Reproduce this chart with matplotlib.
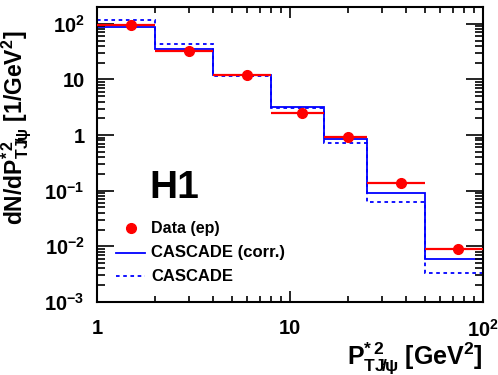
import numpy as np
import matplotlib.pyplot as plt
from matplotlib.ticker import FuncFormatter, LogLocator, NullFormatter

plt.rcParams['font.family'] = ['Liberation Sans', 'DejaVu Sans']
plt.rcParams['font.weight'] = 'bold'
plt.rcParams['mathtext.fontset'] = 'custom'
plt.rcParams['mathtext.rm'] = 'Liberation Sans:bold'
plt.rcParams['mathtext.bf'] = 'Liberation Sans:bold'
plt.rcParams['mathtext.it'] = 'Liberation Sans:bold'
plt.rcParams['mathtext.sf'] = 'Liberation Sans:bold'

# bin edges in P*T^2 [GeV^2]
bin_edges = [1, 2, 4, 8, 15, 25, 50, 100]

# data (ep)
data_x = [1.5, 3.0, 6.0, 11.5, 20.0, 37.5, 74.0]
data_y = [97, 33, 11.8, 2.5, 0.93, 0.138, 0.0088]
data_yerr = [8, 2.5, 0.8, 0.2, 0.08, 0.015, 0.0012]

# CASCADE predictions
cascade_corr = [87, 35, 12.0, 3.15, 0.85, 0.089, 0.006]
cascade = [118, 43, 11.6, 3.05, 0.72, 0.063, 0.0033]

fig = plt.figure(figsize=(4.98, 3.75), dpi=100)
ax = fig.add_axes([0.195, 0.195, 0.775, 0.786])

ax.stairs(cascade_corr, bin_edges, color='#0000ff', lw=1.3, baseline=None)
ax.stairs(cascade, bin_edges, color='#0000ff', lw=1.3, ls=(0, (2, 2)), baseline=None)

edges = np.array(bin_edges)
xlo = np.array(data_x) - edges[:-1]
xhi = edges[1:] - np.array(data_x)
ax.errorbar(data_x, data_y, xerr=[xlo, xhi], yerr=data_yerr, fmt='o', color='#ff0000',
            ms=7, lw=1.6, capsize=0, zorder=5)

ax.set_xscale('log')
ax.set_yscale('log')
ax.set_xlim(1, 100)
ax.set_ylim(1e-3, 200)


def fmt(v, pos):
    if v == 1:
        return '1'
    if v == 10:
        return '10'
    e = int(round(np.log10(v)))
    return r'$10^{%d}$' % e


ax.xaxis.set_major_formatter(FuncFormatter(fmt))
ax.yaxis.set_major_formatter(FuncFormatter(fmt))
ax.xaxis.set_minor_formatter(NullFormatter())
ax.yaxis.set_minor_locator(LogLocator(subs=np.arange(2, 10), numticks=20))
ax.yaxis.set_minor_formatter(NullFormatter())

ax.tick_params(which='both', direction='in', top=True, right=True, labelsize=14.5, width=1.2)
ax.tick_params(axis='y', which='major', length=12, pad=9)
ax.tick_params(axis='y', which='minor', length=6)
ax.tick_params(axis='x', which='major', length=8, pad=12)
ax.tick_params(axis='x', which='minor', length=4)
for s in ax.spines.values():
    s.set_linewidth(1.5)

ax.set_ylabel(r'dN/dP$^{*\,2}_{TJ\!/\!\psi}$ [1/GeV$^{2}$]', fontsize=16.5, fontweight='bold')
ax.yaxis.set_label_coords(-0.163, 0.59)
ax.set_xlabel(r'P$^{*\,2}_{TJ\!/\!\psi}$ [GeV$^{2}$]', fontsize=18, fontweight='bold')
ax.xaxis.set_label_coords(1.0, -0.13)
ax.xaxis.label.set_horizontalalignment('right')

ax.text(0.135, 0.385, 'H1', transform=ax.transAxes, fontsize=28, fontweight='bold',
        ha='left', va='center')

# legend
ax.plot([0.087], [0.25], transform=ax.transAxes, marker='o', color='#ff0000', ms=7, ls='none')
ax.plot([0.05, 0.125], [0.167, 0.167], transform=ax.transAxes, color='#0000ff', lw=1.3)
ax.plot([0.05, 0.125], [0.087, 0.087], transform=ax.transAxes, color='#0000ff', lw=1.3, ls=(0, (2, 2)))
ax.text(0.14, 0.25, 'Data (ep)', transform=ax.transAxes, fontsize=11.5, fontweight='bold', va='center')
ax.text(0.14, 0.167, 'CASCADE (corr.)', transform=ax.transAxes, fontsize=12, fontweight='bold', va='center')
ax.text(0.14, 0.087, 'CASCADE', transform=ax.transAxes, fontsize=12, fontweight='bold', va='center')

fig.savefig('out.png', dpi=100)
